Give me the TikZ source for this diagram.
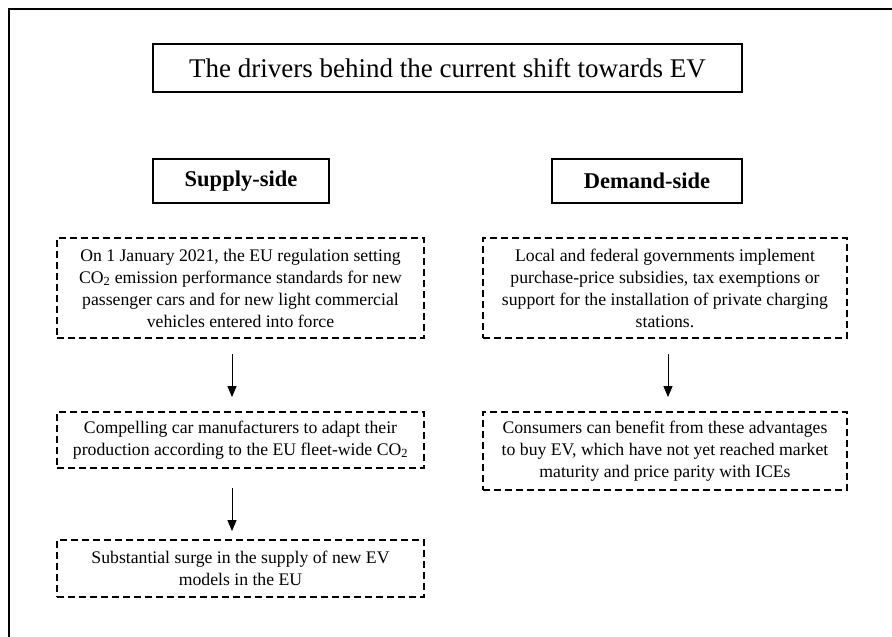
\documentclass[tikz,border=0pt]{standalone}
\usepackage{fontspec}
\setmainfont{Liberation Serif}
\usetikzlibrary{arrows.meta}
\tikzset{
  frameline/.style={line width=2pt},
  titlebox/.style={draw, line width=1.8pt, minimum width=589pt, minimum height=48pt, inner sep=0pt, font=\fontsize{27}{30}\selectfont},
  headbox/.style={draw, line width=1.8pt, minimum height=44pt, inner sep=0pt, font=\fontsize{22.5}{26}\selectfont\bfseries},
  dashbox/.style={draw, line width=1.8pt, dash pattern=on 7pt off 4pt, inner sep=0pt, align=center, font=\fontsize{17.7}{22}\selectfont},
  arr/.style={line width=1pt, -{Triangle[width=9pt,length=11pt]}},
}
\begin{document}
\begin{tikzpicture}[x=1pt,y=-1pt]
\useasboundingbox (0,0) rectangle (892,637);
\coordinate (f0) at (9,637);
\coordinate (f1) at (9,9);
\coordinate (f2) at (892,9);
\draw[frameline] (f0) -- (f1) -- (f2);

\node[titlebox] (title) at (447.5,68) {The drivers behind the current shift towards EV};
\node[headbox, minimum width=176pt] (supply) at (241,181) {Supply-side};
\node[headbox, minimum width=190pt] (demand) at (647,181) {Demand-side};

\node[dashbox, minimum width=367pt, minimum height=100pt] (b1) at (240.5,288)
  {On 1 January 2021, the EU regulation setting\\
   CO\textsubscript{2} emission performance standards for new\\
   passenger cars and for new light commercial\\
   vehicles entered into force};
\node[dashbox, minimum width=367pt, minimum height=56pt] (b2) at (240.5,440)
  {Compelling car manufacturers to adapt their\\
   production according to the EU fleet-wide CO\textsubscript{2}};
\node[dashbox, minimum width=367pt, minimum height=57pt] (b3) at (240.5,568.5)
  {Substantial surge in the supply of new EV\\
   models in the EU};

\node[dashbox, minimum width=364pt, minimum height=100pt] (r1) at (665,288)
  {Local and federal governments implement\\
   purchase-price subsidies, tax exemptions or\\
   support for the installation of private charging\\
   stations.};
\node[dashbox, minimum width=364pt, minimum height=78pt] (r2) at (665,451)
  {Consumers can benefit from these advantages\\
   to buy EV, which have not yet reached market\\
   maturity and price parity with ICEs};

\coordinate (ax) at (232,0);
\coordinate (rx) at (668,0);
\draw[arr, shorten <=15pt, shorten >=14pt] (b1.south -| ax) -- (b2.north -| ax);
\draw[arr, shorten <=19pt, shorten >=8pt] (b2.south -| ax) -- (b3.north -| ax);
\draw[arr, shorten <=15pt, shorten >=14pt] (r1.south -| rx) -- (r2.north -| rx);
\end{tikzpicture}
\end{document}
